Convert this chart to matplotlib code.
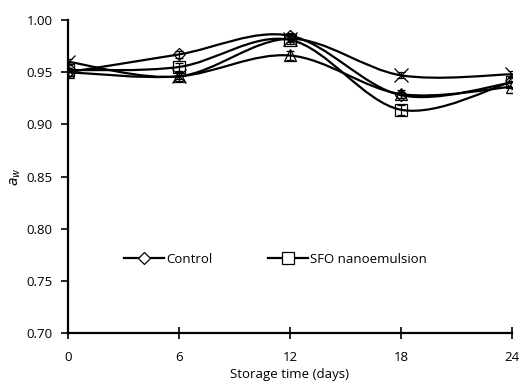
import numpy as np
import matplotlib.pyplot as plt
from matplotlib.path import Path
from matplotlib.patches import PathPatch
from matplotlib.lines import Line2D

plt.rcParams['font.family'] = ['Open Sans', 'DejaVu Sans']

# storage time (days)
days = [0, 6, 12, 18, 24]

# water activity for each treatment
control = [0.950, 0.967, 0.985, 0.928, 0.940]
sfo_nano = [0.952, 0.955, 0.981, 0.914, 0.941]
series_tri = [0.950, 0.946, 0.966, 0.929, 0.936]
series_x = [0.960, 0.946, 0.982, 0.947, 0.948]

# error bars (approximate)
err_control = [0.004, 0.003, 0.003, 0.003, 0.004]
err_sfo = [0.006, 0.004, 0.004, 0.005, 0.005]
err_tri = [0.004, 0.004, 0.004, 0.004, 0.006]
err_x = [0.003, 0.003, 0.003, 0.003, 0.003]


def smooth_path(x, y, t=1/6):
    # Bezier smoothing like spreadsheet "smoothed line"
    x = np.asarray(x, float)
    y = np.asarray(y, float)
    n = len(x)
    verts = [(x[0], y[0])]
    codes = [Path.MOVETO]
    for i in range(n - 1):
        x0, y0 = (x[i - 1], y[i - 1]) if i > 0 else (x[i], y[i])
        x3, y3 = (x[i + 2], y[i + 2]) if i + 2 < n else (x[i + 1], y[i + 1])
        c1 = (x[i] + (x[i + 1] - x0) * t, y[i] + (y[i + 1] - y0) * t)
        c2 = (x[i + 1] - (x3 - x[i]) * t, y[i + 1] - (y3 - y[i]) * t)
        verts += [c1, c2, (x[i + 1], y[i + 1])]
        codes += [Path.CURVE4] * 3
    return Path(verts, codes)


fig = plt.figure(figsize=(5.3, 3.85), dpi=100)
ax = fig.add_axes([0.128, 0.135, 0.838, 0.813])

groups = [
    (control, err_control, 'D', 6.5, 'Control'),
    (sfo_nano, err_sfo, 's', 8, 'SFO nanoemulsion'),
    (series_tri, err_tri, '^', 8, None),
    (series_x, err_x, 'x', 10, None),
]

for vals, err, mk, ms, lab in groups:
    ax.add_patch(PathPatch(smooth_path(days, vals), facecolor='none',
                           edgecolor='black', lw=1.6, zorder=2))
    ax.errorbar(days, vals, yerr=err, fmt='none', ecolor='black',
                elinewidth=0.9, capsize=3, capthick=0.9, zorder=3)
    ax.plot(days, vals, linestyle='none', marker=mk, markersize=ms,
            markerfacecolor='none', markeredgecolor='black',
            markeredgewidth=0.9, zorder=4)

handles = [
    Line2D([], [], color='black', lw=1.6, marker='D', markersize=6.5,
           markerfacecolor='white', markeredgecolor='black', markeredgewidth=0.9),
    Line2D([], [], color='black', lw=1.6, marker='s', markersize=8,
           markerfacecolor='white', markeredgecolor='black', markeredgewidth=0.9),
]
ax.legend(handles, ['Control', 'SFO nanoemulsion'], ncol=2, frameon=False,
          loc='center left', bbox_to_anchor=(0.10, 0.235), handlelength=3.0,
          handletextpad=0.2, columnspacing=4.2, fontsize=9.5)

ax.set_xlim(0, 24)
ax.set_ylim(0.70, 1.00)
ax.set_xticks(days)
ax.set_yticks(np.arange(0.70, 1.001, 0.05))
ax.set_yticklabels([f'{v:.2f}' for v in np.arange(0.70, 1.001, 0.05)])

for s in ['top', 'right']:
    ax.spines[s].set_visible(False)
for s in ['left', 'bottom']:
    ax.spines[s].set_linewidth(1.6)

ax.tick_params(axis='y', direction='out', length=5, width=1.2, labelsize=9.5, pad=6)
ax.tick_params(axis='x', direction='inout', length=8, width=1.2, labelsize=9.5, pad=9)

ax.set_xlabel('Storage time (days)', fontsize=9.5, labelpad=3)
ax.set_ylabel('$a_w$', fontsize=10)
ax.yaxis.set_label_coords(-0.10, 0.5)

fig.savefig('out.png', dpi=100)
